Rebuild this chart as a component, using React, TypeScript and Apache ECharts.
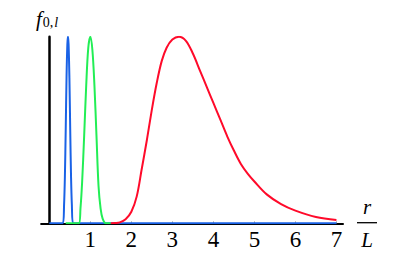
import React, { useEffect, useRef } from "react";
import * as echarts from "echarts";

const xTicks = [1, 2, 3, 4, 5, 6, 7];

const blueR = [0, 0.33, 0.36, 0.38, 0.4, 0.42, 0.44, 0.455, 0.47, 0.49, 0.51, 0.53, 0.55, 0.58, 7.0];
const blueF = [0, 0, 0.1, 0.25, 0.5, 0.78, 0.96, 1.0, 0.96, 0.78, 0.5, 0.25, 0.1, 0, 0];

const greenR = [0.4, 0.72, 0.76, 0.8, 0.85, 0.9, 0.95, 1.0, 1.05, 1.1, 1.15, 1.2, 1.25, 1.3, 1.38, 1.5];
const greenF = [0, 0, 0.08, 0.22, 0.47, 0.74, 0.94, 1.0, 0.93, 0.74, 0.47, 0.2, 0.08, 0.025, 0, 0];

const redR = [1.5, 1.6, 1.72, 1.86, 2.0, 2.13, 2.25, 2.38, 2.5, 2.62, 2.74, 2.86, 3.0, 3.16, 3.33, 3.5, 3.67, 3.84, 4.0, 4.17, 4.34, 4.5, 4.67, 4.84, 5.0, 5.3, 5.65, 6.0, 6.5, 7.0];
const redF = [0, 0.001, 0.005, 0.022, 0.062, 0.143, 0.287, 0.448, 0.609, 0.753, 0.869, 0.941, 0.985, 1.0, 0.978, 0.91, 0.82, 0.73, 0.645, 0.555, 0.465, 0.39, 0.318, 0.265, 0.224, 0.155, 0.103, 0.068, 0.034, 0.018];

const zip = (a: number[], b: number[]) => a.map((v, i) => [v, b[i]]);

export default function App() {
  const ref = useRef<HTMLDivElement>(null);
  useEffect(() => {
    if (!ref.current) return;
    const chart = echarts.init(ref.current, null, { renderer: "svg" });
    const serif = "Liberation Serif";
    const mk = (name: string, r: number[], f: number[], color: string) => ({
      name,
      type: "line",
      data: zip(r, f),
      smooth: 0.35,
      showSymbol: false,
      symbol: "none",
      lineStyle: { color, width: 2 },
      z: 3,
    });
    chart.setOption({
      animation: false,
      backgroundColor: "#ffffff",
      grid: { left: 41.1, right: 72, top: 36.7, bottom: 33.7 },
      xAxis: {
        type: "value",
        min: -0.2,
        max: 7.16,
        axisLine: { onZero: true, lineStyle: { color: "#000", width: 2 } },
        axisTick: {
          show: true,
          inside: true,
          length: 2,
          customValues: xTicks,
          lineStyle: { color: "#aaa", width: 1 },
        },
        axisLabel: {
          customValues: xTicks,
          fontFamily: serif,
          fontSize: 23,
          color: "#000",
          margin: 5,
        },
        splitLine: { show: false },
      },
      yAxis: {
        type: "value",
        min: 0,
        max: 1,
        axisLine: { show: true, onZero: true, lineStyle: { color: "#000", width: 2.5 } },
        axisTick: { show: false },
        axisLabel: { show: false },
        splitLine: { show: false },
      },
      series: [
        mk("blue", blueR, blueF, "#1a62e6"),
        mk("green", greenR, greenF, "#22ee55"),
        mk("red", redR, redF, "#ff0a2a"),
      ],
      graphic: [
        {
          type: "text",
          left: 36,
          top: 8,
          style: {
            text: "{f|f}{s|0,}{l|l}",
            rich: {
              f: { fontFamily: serif, fontStyle: "italic", fontSize: 21, fill: "#000" },
              s: { fontFamily: serif, fontSize: 14, fill: "#000", padding: [7, 0, 0, 1] },
              l: { fontFamily: serif, fontStyle: "italic", fontSize: 14, fill: "#000", padding: [7, 0, 0, 1] },
            },
          },
        },
        {
          type: "text",
          x: 367,
          y: 207,
          style: {
            text: "r",
            fontFamily: serif,
            fontStyle: "italic",
            fontSize: 21,
            fill: "#000",
            align: "center",
            verticalAlign: "middle",
          },
        },
        {
          type: "line",
          shape: { x1: 357, y1: 222.7, x2: 377, y2: 222.7 },
          style: { stroke: "#000", lineWidth: 1.3 },
        },
        {
          type: "text",
          x: 367,
          y: 240,
          style: {
            text: "L",
            fontFamily: serif,
            fontStyle: "italic",
            fontSize: 21,
            fill: "#000",
            align: "center",
            verticalAlign: "middle",
          },
        },
      ],
    });
    return () => chart.dispose();
  }, []);
  return (
    <div
      ref={ref}
      style={{ position: "fixed", left: 0, top: 0, width: 415, height: 257, background: "#fff" }}
    />
  );
}
